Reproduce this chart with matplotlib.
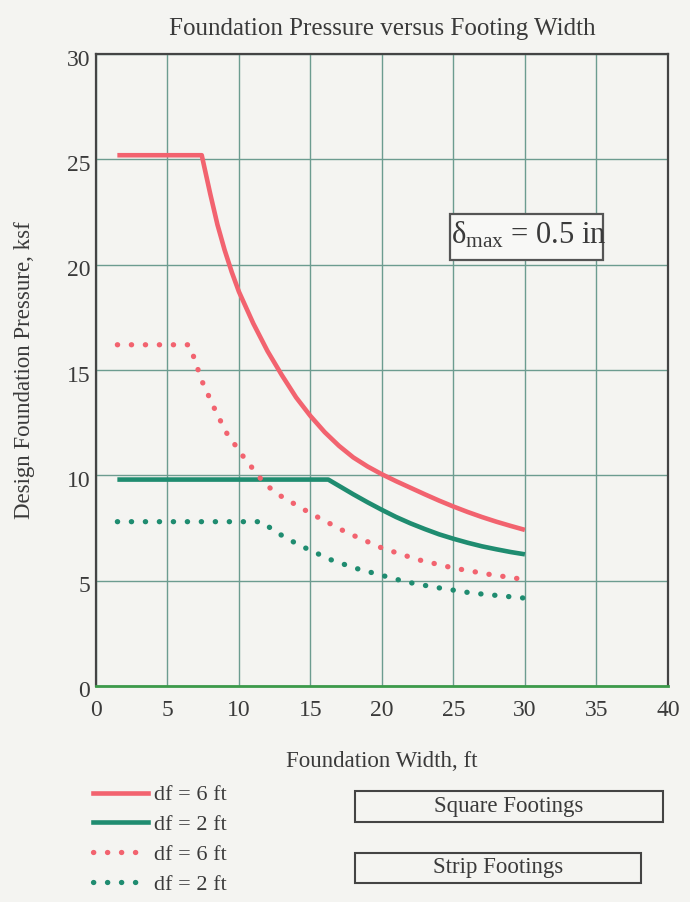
import matplotlib.pyplot as plt
import matplotlib.transforms as mtransforms
from matplotlib.lines import Line2D
from matplotlib.patches import Rectangle

# values
sq6_x = [1.5, 7.4, 8, 8.5, 9, 9.5, 10, 11, 12, 13, 14, 15, 16, 17, 18, 19, 20,
         21, 22, 23, 24, 25, 26, 27, 28, 29, 30]
sq6_y = [25.2, 25.2, 23.35, 21.9, 20.7, 19.65, 18.72, 17.22, 15.9, 14.76, 13.7, 12.82, 12.05,
         11.4, 10.85, 10.42, 10.05, 9.72, 9.41, 9.1, 8.8, 8.52, 8.26, 8.02, 7.8, 7.6, 7.41]

sq2_x = [1.5, 16.25, 17, 18, 19, 20, 21, 22, 23, 24, 25, 26, 27, 28, 29, 30]
sq2_y = [9.8, 9.8, 9.5, 9.1, 8.72, 8.36, 8.02, 7.72, 7.45, 7.2, 6.99, 6.8, 6.63, 6.49, 6.36, 6.25]

st6_x = [1.5, 6.5, 6.8, 7.4, 8.2, 9.1, 10.3, 11.8, 12.8, 15.0, 17.5, 20.0, 22.5, 25.0, 27.5, 30.0]
st6_y = [16.2, 16.2, 15.7, 14.5, 13.3, 12.05, 10.9, 9.6, 9.07, 8.2, 7.3, 6.55, 6.0, 5.6, 5.3, 5.05]

st2_x = [1.5, 11.6, 12.5, 13.5, 14.5, 16.4, 18.1, 19.9, 21.7, 23.6, 26.3, 28.0, 30.0]
st2_y = [7.8, 7.8, 7.35, 6.95, 6.6, 6.0, 5.6, 5.27, 4.94, 4.7, 4.41, 4.3, 4.17]

legend_labels = ['df = 6 ft', 'df = 2 ft', 'df = 6 ft', 'df = 2 ft']
x_ticks = [0, 5, 10, 15, 20, 25, 30, 35, 40]
y_ticks = [0, 5, 10, 15, 20, 25, 30]

red = '#f2636f'
green = '#1f8c70'
gridc = '#6c9c90'
txt = '#3a3a3a'
bg = '#f4f4f1'
dots = (0, (0.05, 2.6))

plt.rcParams['font.family'] = ['Liberation Serif', 'DejaVu Serif']
plt.rcParams['mathtext.fontset'] = 'custom'
plt.rcParams['mathtext.rm'] = 'Liberation Serif'
plt.rcParams['mathtext.it'] = 'Liberation Serif:italic'

fig = plt.figure(figsize=(6.9, 9.02), dpi=100, facecolor=bg)
ax = fig.add_axes([0.139, 0.2395, 0.829, 0.7005])
ax.set_facecolor(bg)

ax.plot(sq6_x, sq6_y, color=red, lw=3.3, solid_capstyle='butt', solid_joinstyle='round', zorder=3)
ax.plot(sq2_x, sq2_y, color=green, lw=3.3, solid_capstyle='butt', solid_joinstyle='round', zorder=3)
ax.plot(st6_x, st6_y, color=red, lw=3.8, ls=dots, dash_capstyle='round', zorder=3)
ax.plot(st2_x, st2_y, color=green, lw=3.8, ls=dots, dash_capstyle='round', zorder=3)

ax.set_xlim(0, 40)
ax.set_ylim(0, 30)
ax.set_xticks(x_ticks)
ax.set_yticks(y_ticks)
ax.grid(True, color=gridc, lw=1.0)
ax.set_axisbelow(True)
ax.tick_params(length=0, labelsize=17, colors=txt)
ax.tick_params(axis='x', pad=10)
ax.tick_params(axis='y', pad=4)
shift = mtransforms.ScaledTranslation(0, -2.5 / 72, fig.dpi_scale_trans)
for lab in ax.get_yticklabels():
    lab.set_transform(lab.get_transform() + shift)
for s in ['top', 'left', 'right']:
    ax.spines[s].set_color('#444444')
    ax.spines[s].set_linewidth(1.6)
ax.spines['bottom'].set_color('#3c9a4a')
ax.spines['bottom'].set_linewidth(2.0)

ax.set_title('Foundation Pressure versus Footing Width', fontsize=18, color=txt, pad=14)
ax.set_xlabel('Foundation Width, ft', fontsize=16.5, color=txt, labelpad=22)
ax.set_ylabel('Design Foundation Pressure, ksf', fontsize=16.5, color=txt, labelpad=23)

# delta max box
box = Rectangle((24.75, 20.22), 10.7, 2.18, facecolor='#f8f8f6', edgecolor='#555555',
                lw=1.6, zorder=4)
ax.add_patch(box)
ax.text(24.82, 21.0, r'$\mathrm{\delta}_{\mathrm{max}}$ = 0.5 in', fontsize=22, color=txt,
        va='baseline', ha='left', zorder=5)

# legend
handles = [Line2D([], [], color=red, lw=3.3),
           Line2D([], [], color=green, lw=3.3),
           Line2D([], [], color=red, lw=3.8, ls=dots, dash_capstyle='round'),
           Line2D([], [], color=green, lw=3.8, ls=dots, dash_capstyle='round')]
fig.legend(handles, legend_labels, loc='upper left', bbox_to_anchor=(0.135, 0.13),
           frameon=False, fontsize=16, handlelength=2.45, handletextpad=0.27,
           labelspacing=0.42, borderpad=0, borderaxespad=0, labelcolor=txt)

# footing type boxes
for (x0, y0, w, h, label) in [(355, 791, 308, 31, 'Square Footings'),
                              (355, 853, 286, 30, 'Strip Footings')]:
    fig.patches.append(Rectangle((x0 / 690, 1 - (y0 + h) / 902), w / 690, h / 902,
                                 transform=fig.transFigure, facecolor='none',
                                 edgecolor='#444444', lw=1.5))
    fig.text((x0 + w / 2) / 690, 1 - (y0 + h / 2) / 902, label, ha='center', va='center',
             fontsize=16.5, color=txt)

fig.savefig('out.png', dpi=100, facecolor=bg)
